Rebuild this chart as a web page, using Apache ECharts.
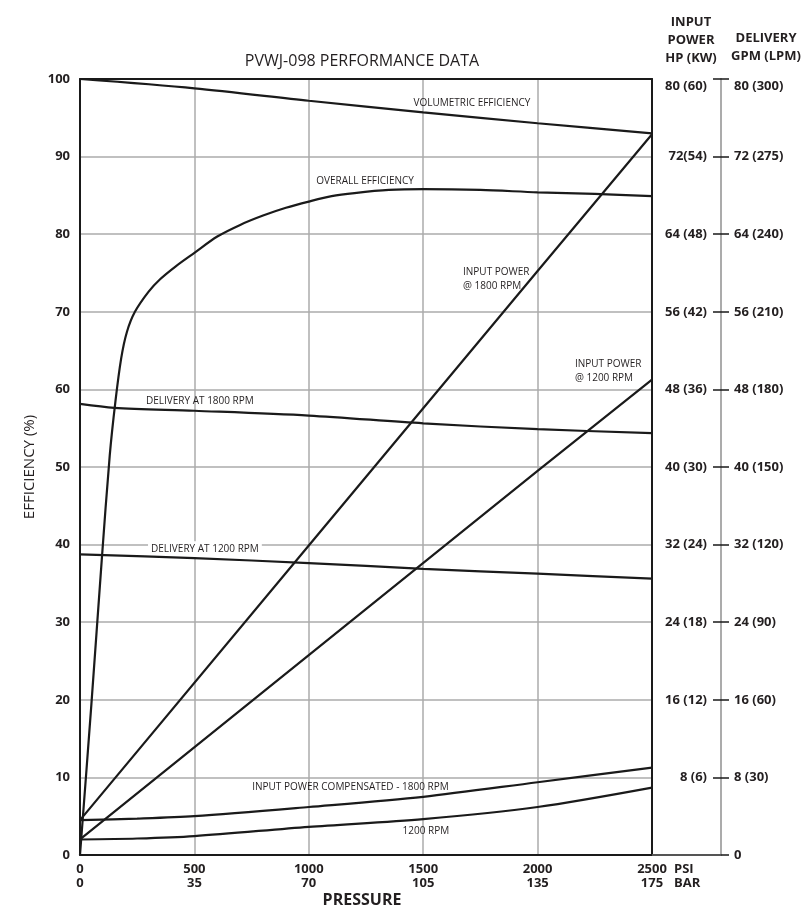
<!DOCTYPE html>
<html>
<head>
<meta charset="utf-8">
<script src="https://cdn.jsdelivr.net/npm/echarts@6/dist/echarts.min.js"></script>
<style>
html,body{margin:0;padding:0;background:#fff;}
#chart{width:810px;height:922px;}
</style>
</head>
<body>
<div id="chart"></div>
<script>
// ---- data (pressure in PSI) ----
const psiTicks = [0, 500, 1000, 1500, 2000, 2500];
const barLabels = ['0', '35', '70', '105', '135', '175'];
const hpLabels = ['', '8 (6)', '16 (12)', '24 (18)', '32 (24)', '40 (30)', '48 (36)', '56 (42)', '64 (48)', '72(54)', '80 (60)'];
const gpmLabels = ['0', '8 (30)', '16 (60)', '24 (90)', '32 (120)', '40 (150)', '48 (180)', '56 (210)', '64 (240)', '72 (275)', '80 (300)'];

// efficiency (%)
const volumetricEff = [[0,100],[500,98.8],[1000,97.2],[1500,95.7],[2000,94.3],[2500,93.0]];
const overallEff = [[0,0],[50,19.5],[95,38],[130,51.5],[155,58.5],[180,64],[205,67.4],[240,70],[300,72.6],[350,74.2],[420,75.9],[500,77.6],[600,79.7],[700,81.2],[800,82.4],[900,83.4],[1000,84.2],[1100,84.9],[1200,85.3],[1350,85.7],[1500,85.8],[1750,85.7],[2000,85.4],[2250,85.2],[2500,84.9]];
// delivery (GPM)
const delivery1800 = [[0,46.5],[150,46.1],[500,45.8],[1000,45.3],[1500,44.5],[2000,43.9],[2500,43.5]];
const delivery1200 = [[0,31.0],[500,30.6],[1000,30.1],[1500,29.5],[2000,29.0],[2500,28.5]];
// input power (HP)
const power1800 = [[0,3.6],[1000,31.9],[2000,60.2],[2500,74.3]];
const power1200 = [[0,1.6],[1000,20.6],[2000,39.6],[2500,49.0]];
const powerComp1800 = [[0,3.6],[250,3.75],[500,4.0],[1000,4.95],[1500,6.0],[2000,7.5],[2500,9.0]];
const powerComp1200 = [[0,1.6],[250,1.7],[500,1.95],[1000,2.9],[1500,3.7],[2000,4.95],[2500,6.95]];

const FONT = "'Open Sans', sans-serif";
const TXT = '#231f20';
const LINE = '#1a1a1a';
const GRIDC = '#ababab';

const chart = echarts.init(document.getElementById('chart'), null, {renderer: 'canvas'});

const tickLabelStyle = {fontFamily: FONT, fontSize: 13, fontWeight: 'bold', color: TXT};
const topRich = {
  n: Object.assign({}, tickLabelStyle),
  t: Object.assign({padding: [14, 0, 0, 0]}, tickLabelStyle)
};

function lineSeries(name, data, yIdx, smooth, labels) {
  const s = {
    name: name, type: 'line', data: data, xAxisIndex: 0, yAxisIndex: yIdx,
    showSymbol: false, symbol: 'none', smooth: smooth,
    lineStyle: {color: LINE, width: 2.2}, silent: true, z: 5
  };
  if (labels) {
    s.markPoint = {
      symbol: 'rect', symbolSize: 0, silent: true,
      data: labels.map(l => ({
        coord: l.coord, value: 0,
        label: Object.assign({show: true, formatter: l.text, color: TXT, fontFamily: FONT, fontSize: 10, lineHeight: 14, position: 'inside', align: l.align || 'center'}, l.extra || {})
      }))
    };
  }
  return s;
}

const option = {
  animation: false,
  backgroundColor: '#fff',
  title: [
    {
      text: 'PVWJ-098 PERFORMANCE DATA', left: 357, top: 48, textAlign: 'center',
      textStyle: {fontFamily: FONT, fontSize: 16, fontWeight: 'normal', color: TXT}
    },
    {
      text: 'INPUT\nPOWER\nHP (KW)', left: 686, top: 8, textAlign: 'center',
      textStyle: {fontFamily: FONT, fontSize: 13, fontWeight: 'bold', color: TXT, lineHeight: 18, align: 'center'}
    }
  ],
  grid: {left: 80, right: 158, top: 79, bottom: 67, containLabel: false},
  xAxis: [
    {
      type: 'value', position: 'bottom', min: 0, max: 2500, interval: 500,
      axisLine: {show: true, onZero: false, lineStyle: {color: LINE, width: 2}},
      axisTick: {show: false},
      splitLine: {show: true, lineStyle: {color: GRIDC, width: 1.5}},
      axisLabel: {
        margin: 7, fontFamily: FONT, fontSize: 13, fontWeight: 'bold', color: TXT, lineHeight: 14,
        formatter: function (v) { const i = psiTicks.indexOf(v); return v + '\n' + (i >= 0 ? barLabels[i] : ''); }
      },
      name: 'PSI\nBAR', nameLocation: 'end', nameGap: 22,
      nameTextStyle: {fontFamily: FONT, fontSize: 13, fontWeight: 'bold', color: TXT, lineHeight: 14, verticalAlign: 'top', align: 'left', padding: [7, 0, 0, 0]}
    },
    {
      type: 'value', position: 'top', min: 0, max: 2500, interval: 500,
      axisLine: {show: true, onZero: false, lineStyle: {color: LINE, width: 2}},
      axisTick: {show: false}, axisLabel: {show: false}, splitLine: {show: false}
    },
    {
      type: 'value', position: 'bottom', min: 0, max: 2500,
      axisLine: {show: false}, axisTick: {show: false}, axisLabel: {show: false}, splitLine: {show: false},
      name: 'PRESSURE', nameLocation: 'middle', nameGap: 37,
      nameTextStyle: {fontFamily: FONT, fontSize: 16, fontWeight: 'bold', color: TXT, padding: [0, 8, 0, 0]}
    }
  ],
  yAxis: [
    {
      type: 'value', position: 'left', min: 0, max: 100, interval: 10,
      axisLine: {show: true, onZero: false, lineStyle: {color: LINE, width: 2}},
      axisTick: {show: false},
      splitLine: {show: true, lineStyle: {color: GRIDC, width: 1.5}},
      axisLabel: {margin: 10, fontFamily: FONT, fontSize: 13, fontWeight: 'bold', color: TXT},
      name: 'EFFICIENCY (%)', nameLocation: 'middle', nameGap: 31, nameRotate: 90,
      nameTextStyle: {fontFamily: FONT, fontSize: 15, fontWeight: 'normal', color: TXT}
    },
    {
      type: 'value', position: 'right', offset: 0, min: 0, max: 100, interval: 10,
      axisLine: {show: true, onZero: false, lineStyle: {color: LINE, width: 2}},
      axisTick: {show: false}, axisLabel: {show: false}, splitLine: {show: false}
    },
    {
      type: 'value', position: 'right', offset: 69, min: 0, max: 80, interval: 8,
      axisLine: {show: true, onZero: false, lineStyle: {color: GRIDC, width: 2}},
      axisTick: {show: true, inside: false, length: 8, lineStyle: {color: LINE, width: 1.5}},
      splitLine: {show: false},
      axisLabel: Object.assign({
        margin: 13, rich: topRich,
        formatter: function (v) { const i = Math.round(v / 8); return i === 10 ? '{t|' + gpmLabels[i] + '}' : '{n|' + gpmLabels[i] + '}'; }
      }, tickLabelStyle),
      name: 'DELIVERY\nGPM (LPM)', nameLocation: 'end', nameGap: 14,
      nameTextStyle: {fontFamily: FONT, fontSize: 13, fontWeight: 'bold', color: TXT, lineHeight: 18, align: 'center', padding: [0, 0, 0, 90]}
    },
    {
      type: 'value', position: 'right', offset: 69, min: 0, max: 80, interval: 8,
      axisLine: {show: true, onZero: false, lineStyle: {color: GRIDC, width: 2}},
      axisTick: {show: true, inside: true, length: 8, lineStyle: {color: LINE, width: 1.5}},
      splitLine: {show: false},
      axisLabel: Object.assign({
        inside: true, margin: 14, rich: topRich,
        formatter: function (v) { const i = Math.round(v / 8); return i === 10 ? '{t|' + hpLabels[i] + '}' : (hpLabels[i] ? '{n|' + hpLabels[i] + '}' : ''); }
      }, tickLabelStyle)
    }
  ],
  series: [
    lineSeries('Volumetric efficiency', volumetricEff, 0, 0.3, [
      {coord: [1713, 96.9], text: 'VOLUMETRIC EFFICIENCY'},
      {coord: [1246, 86.8], text: 'OVERALL EFFICIENCY'},
      {coord: [1674, 74.2], text: 'INPUT POWER\n@ 1800 RPM', align: 'left'},
      {coord: [2163, 62.3], text: 'INPUT POWER\n@ 1200 RPM', align: 'left'},
      {coord: [524, 58.5], text: 'DELIVERY AT 1800 RPM'},
      {coord: [546, 39.4], text: 'DELIVERY AT 1200 RPM', extra: {backgroundColor: '#fff', padding: [1, 3]}},
      {coord: [1182, 8.76], text: 'INPUT POWER COMPENSATED - 1800 RPM'},
      {coord: [1512, 3.1], text: '1200 RPM'}
    ]),
    lineSeries('Overall efficiency', overallEff, 0, 0.3),
    lineSeries('Delivery at 1800 RPM', delivery1800, 2, 0.3),
    lineSeries('Delivery at 1200 RPM', delivery1200, 2, 0.3),
    lineSeries('Input power @ 1800 RPM', power1800, 3, false),
    lineSeries('Input power @ 1200 RPM', power1200, 3, false),
    lineSeries('Input power compensated - 1800 RPM', powerComp1800, 3, 0.3),
    lineSeries('Input power compensated - 1200 RPM', powerComp1200, 3, 0.3)
  ]
};

chart.setOption(option);

// extend the base line from the plot frame to the delivery/power scale
const xEnd = chart.convertToPixel({xAxisIndex: 0}, 2500);
const yZero = chart.convertToPixel({yAxisIndex: 0}, 0);
chart.setOption({
  graphic: [{
    type: 'line', silent: true, z: 1,
    shape: {x1: xEnd, y1: yZero, x2: xEnd + 69, y2: yZero},
    style: {stroke: '#555', lineWidth: 2}
  }]
});
</script>
</body>
</html>
